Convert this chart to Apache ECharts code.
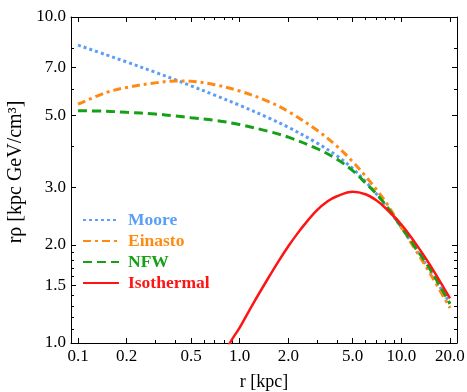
<!DOCTYPE html>
<html>
<head>
<meta charset="utf-8">
<script src="https://cdn.jsdelivr.net/npm/echarts@6.0.0/dist/echarts.min.js"></script>
<style>
  html, body { margin: 0; padding: 0; background: #fff; }
  #container { width: 467px; height: 392px; }
</style>
</head>
<body>
<div id="container"></div>
<script>
// values (r in kpc, r*rho in kpc GeV/cm^3)
const radius = [0.1, 0.15, 0.2, 0.3, 0.4, 0.5, 0.7, 1, 1.5, 2, 3, 4, 5, 6, 7, 8, 10, 12, 15, 20]
const moore = [8.20, 7.65, 7.28, 6.77, 6.42, 6.15, 5.76, 5.36, 4.91, 4.59, 4.11, 3.75, 3.43, 3.13, 2.87, 2.64, 2.26, 1.98, 1.67, 1.32]
const einasto = [5.40, 5.87, 6.08, 6.28, 6.36, 6.35, 6.20, 5.93, 5.51, 5.13, 4.50, 4.01, 3.60, 3.25, 2.96, 2.71, 2.27, 1.96, 1.64, 1.28]
const nfw = [5.16, 5.14, 5.10, 5.04, 4.97, 4.91, 4.82, 4.68, 4.46, 4.28, 3.95, 3.66, 3.38, 3.10, 2.87, 2.65, 2.27, 1.99, 1.69, 1.32]
const isoRadius = [0.8, 0.87, 1, 1.2, 1.5, 1.75, 2, 2.25, 2.5, 3, 3.5, 4, 5, 6, 7, 8, 10, 12, 15, 20]
const isothermal = [0.91, 1.0, 1.115, 1.31, 1.58, 1.79, 1.98, 2.15, 2.30, 2.55, 2.72, 2.82, 2.91, 2.86, 2.74, 2.59, 2.31, 2.05, 1.74, 1.37]

const xMajor = [0.1, 0.2, 0.5, 1, 2, 5, 10, 20]
const xMinor = [0.3, 0.4, 0.6, 0.7, 0.8, 0.9, 3, 4, 6, 7, 8, 9]
const yMajor = [1, 1.5, 2, 3, 5, 7, 10]
const yMinor = [1.1, 1.2, 1.3, 1.4, 1.6, 1.7, 1.8, 1.9, 4, 6, 8]

const font = '"Liberation Serif", "Times New Roman", serif'
const colors = { moore: '#5a9ef7', einasto: '#ff8a12', nfw: '#16a016', iso: '#ff1414' }

function axis(position, min, max, ticks, tickLen, showLine, showLabel) {
  return {
    type: 'log',
    logBase: 10,
    position,
    min,
    max,
    axisLine: { show: showLine, onZero: false, lineStyle: { color: '#000', width: 1 } },
    axisTick: { show: true, inside: true, length: tickLen, customValues: ticks, lineStyle: { color: '#000', width: 1 } },
    axisLabel: {
      show: showLabel,
      customValues: ticks,
      formatter: v => Number(v).toFixed(1),
      fontFamily: font,
      fontSize: 17,
      color: '#000',
      margin: 5
    },
    splitLine: { show: false },
    minorTick: { show: false }
  }
}

const xAxes = [
  Object.assign(axis('bottom', 0.0905, 22.1, xMajor, 5, true, true), {
    name: 'r [kpc]', nameLocation: 'middle', nameGap: 30,
    nameTextStyle: { fontFamily: font, fontSize: 18, color: '#000' }
  }),
  axis('bottom', 0.0905, 22.1, xMinor, 3, false, false),
  axis('top', 0.0905, 22.1, xMajor, 5, true, false),
  axis('top', 0.0905, 22.1, xMinor, 3, false, false)
]
const yAxes = [
  Object.assign(axis('left', 1, 10, yMajor, 5, true, true), {
    name: 'rρ [kpc GeV/cm³]', nameLocation: 'middle', nameGap: 40,
    nameTextStyle: { fontFamily: font, fontSize: 20, color: '#000', padding: [0, 0, 0, 16] }
  }),
  axis('left', 1, 10, yMinor, 3, false, false),
  axis('right', 1, 10, yMajor, 5, true, false),
  axis('right', 1, 10, yMinor, 3, false, false)
]

const pairs = (xs, ys) => xs.map((x, i) => [x, ys[i]])

function curve(name, data, color, type, width) {
  return {
    name,
    type: 'line',
    data,
    symbol: 'none',
    smooth: 0.35,
    clip: true,
    lineStyle: { color, type, width },
    itemStyle: { color }
  }
}

const chart = echarts.init(document.getElementById('container'), null, { renderer: 'canvas' })
chart.setOption({
  animation: false,
  backgroundColor: '#fff',
  grid: { left: 71, right: 10, top: 17, bottom: 49, outerBoundsMode: 'none', containLabel: false },
  legend: {
    orient: 'vertical',
    left: 77,
    top: 206,
    itemWidth: 36,
    itemHeight: 14,
    itemGap: 3,
    itemStyle: { opacity: 0 },
    textStyle: { fontFamily: font, fontSize: 17.5, fontWeight: 'bold', lineHeight: 14, padding: [0, 0, 0, 4] },
    data: [
      { name: 'Moore', textStyle: { color: colors.moore } },
      { name: 'Einasto', textStyle: { color: colors.einasto } },
      { name: 'NFW', textStyle: { color: colors.nfw } },
      { name: 'Isothermal', textStyle: { color: colors.iso } }
    ]
  },
  xAxis: xAxes,
  yAxis: yAxes,
  series: [
    curve('Moore', pairs(radius, moore), colors.moore, [3, 3], 3),
    curve('Einasto', pairs(radius, einasto), colors.einasto, [8, 4, 3, 4], 3),
    curve('NFW', pairs(radius, nfw), colors.nfw, [9, 5], 3),
    curve('Isothermal', pairs(isoRadius, isothermal), colors.iso, 'solid', 2.5)
  ]
})
</script>
</body>
</html>
